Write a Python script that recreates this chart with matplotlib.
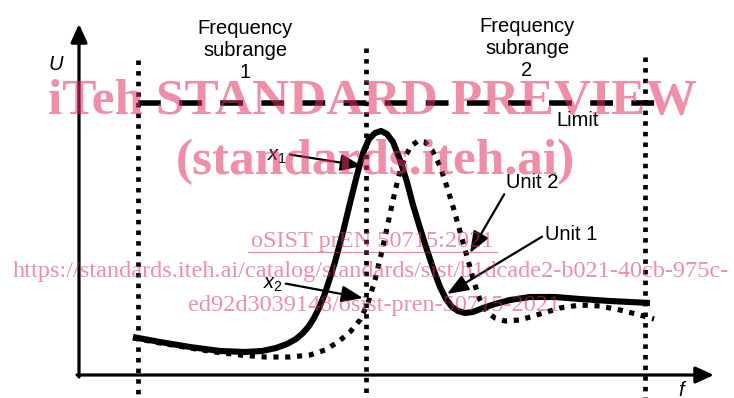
import numpy as np
import matplotlib
matplotlib.use("Agg")
import matplotlib.pyplot as plt

plt.rcParams['font.family'] = ['Liberation Sans', 'DejaVu Sans']
plt.rcParams['mathtext.fontset'] = 'custom'
plt.rcParams['mathtext.rm'] = 'Liberation Sans'
plt.rcParams['mathtext.it'] = 'Liberation Sans:italic'

# curves (x = frequency, y = level, screen units, y down)
f_unit1 = [133, 160, 190, 220, 245, 262, 276, 287, 296, 303, 309, 314, 319, 324, 329, 335,
           343, 350, 357, 363, 369, 375, 381, 387, 393, 400, 407, 413, 420, 427, 434, 440,
           446, 452, 458, 465, 473, 483, 495, 510, 530, 555, 580, 610, 650]
u_unit1 = [337, 342, 347, 351, 352, 351, 348, 344, 339, 333, 326, 318, 308, 296, 281, 262,
           232, 203, 175, 153, 139, 133, 131, 134, 142, 160, 182, 205, 228, 250, 271, 287,
           299, 307, 311, 313, 312, 308, 304, 300, 297, 297, 299, 301, 303]

f_unit2 = [133, 160, 190, 215, 240, 265, 290, 310, 325, 338, 350, 360, 368, 375, 381, 387,
           393, 399, 405, 411, 418, 425, 432, 440, 447, 454, 461, 468, 474, 480, 487, 495,
           505, 520, 540, 560, 580, 600, 620, 640, 654]
u_unit2 = [338, 343, 348, 352, 355, 357, 357, 355, 350, 342, 332, 320, 303, 280, 255, 228,
           200, 175, 157, 146, 141, 142, 150, 166, 187, 210, 235, 260, 282, 300, 312, 318,
           321, 320, 314, 308, 305, 306, 310, 315, 319]

subrange_edges = [138, 366, 645]
subrange_tops = [60, 48, 57]
limit_level = 103
limit_span = [138, 662]

fig = plt.figure(figsize=(7.34, 3.98), dpi=100)
ax = fig.add_axes([0, 0, 1, 1])
ax.set_xlim(0, 734)
ax.set_ylim(398, 0)
ax.axis('off')

fs = 14.5

# axes with arrows
ax.annotate('', xy=(79, 24), xytext=(79, 377),
            arrowprops=dict(arrowstyle='-|>,head_length=1.1,head_width=0.5', lw=2.3, color='black',
                            shrinkA=0, shrinkB=0))
ax.annotate('', xy=(714, 375), xytext=(77, 375),
            arrowprops=dict(arrowstyle='-|>,head_length=1.1,head_width=0.5', lw=2.3, color='black',
                            shrinkA=0, shrinkB=0))
ax.text(56, 64, 'U', fontsize=fs, style='italic', ha='center', va='center')
ax.text(681, 390, 'f', fontsize=fs, style='italic', ha='center', va='center')

# subrange borders
for x, top in zip(subrange_edges, subrange_tops):
    ax.plot([x, x], [top, 398], color='black', lw=3.4, linestyle=(0, (0.95, 1.3)),
            solid_capstyle='butt', dash_capstyle='butt')

# limit
ax.plot(limit_span, [limit_level, limit_level], color='black', lw=4.0,
        linestyle=(0, (4.1, 3.3)), dash_capstyle='butt')
ax.text(578, 120, 'Limit', fontsize=fs, ha='center', va='center')

ax.text(245, 51, 'Frequency\nsubrange\n1', fontsize=fs, ha='center', va='center', linespacing=1.2)
ax.text(527, 49, 'Frequency\nsubrange\n2', fontsize=fs, ha='center', va='center', linespacing=1.2)

# units
ax.plot(f_unit1, u_unit1, color='black', lw=4.4, solid_joinstyle='round', solid_capstyle='butt')
ax.plot(f_unit2, u_unit2, color='black', lw=3.7, linestyle=(0, (1, 1.3)), dash_capstyle='butt')

arrow = dict(arrowstyle='-|>,head_length=0.9,head_width=0.35', lw=1.6, color='black',
             shrinkA=0, shrinkB=0)
ax.annotate('$x_1$', xy=(362, 166), xytext=(277, 156), fontsize=fs, ha='center', va='center',
            arrowprops=dict(arrow, relpos=(1.0, 0.6)))
ax.annotate('$x_2$', xy=(363, 298), xytext=(273, 285), fontsize=fs, ha='center', va='center',
            arrowprops=dict(arrow, relpos=(1.0, 0.6)))
ax.annotate('Unit 2', xy=(470, 253), xytext=(532, 182), fontsize=fs, ha='center', va='center',
            arrowprops=dict(arrow, relpos=(0.0, 0.0)))
ax.annotate('Unit 1', xy=(447, 294), xytext=(571, 235), fontsize=fs, ha='center', va='center',
            arrowprops=dict(arrow, relpos=(0.0, 0.5)))

# watermark
wm = (224 / 255, 50 / 255, 99 / 255)
ax.text(372, 102, 'iTeh STANDARD PREVIEW', fontsize=37, fontweight='bold', family='Liberation Serif',
        color=wm, alpha=0.55, ha='center', va='center')
ax.text(375, 162, '(standards.iteh.ai)', fontsize=37, fontweight='bold', family='Liberation Serif',
        color=wm, alpha=0.55, ha='center', va='center')
ax.text(372, 242, 'oSIST prEN 50715:2021', fontsize=17.5, family='Liberation Serif',
        color=wm, alpha=0.55, ha='center', va='center')
ax.plot([248, 497], [252, 252], color=wm, alpha=0.55, lw=1)
ax.text(371, 272, 'https://standards.iteh.ai/catalog/standards/sist/b1dcade2-b021-40cb-975c-',
        fontsize=17.5, family='Liberation Serif', color=wm, alpha=0.55, ha='center', va='center')
ax.text(374, 306, 'ed92d3039148/osist-pren-50715-2021', fontsize=17.5, family='Liberation Serif',
        color=wm, alpha=0.55, ha='center', va='center')

fig.savefig('out.png', dpi=100)
